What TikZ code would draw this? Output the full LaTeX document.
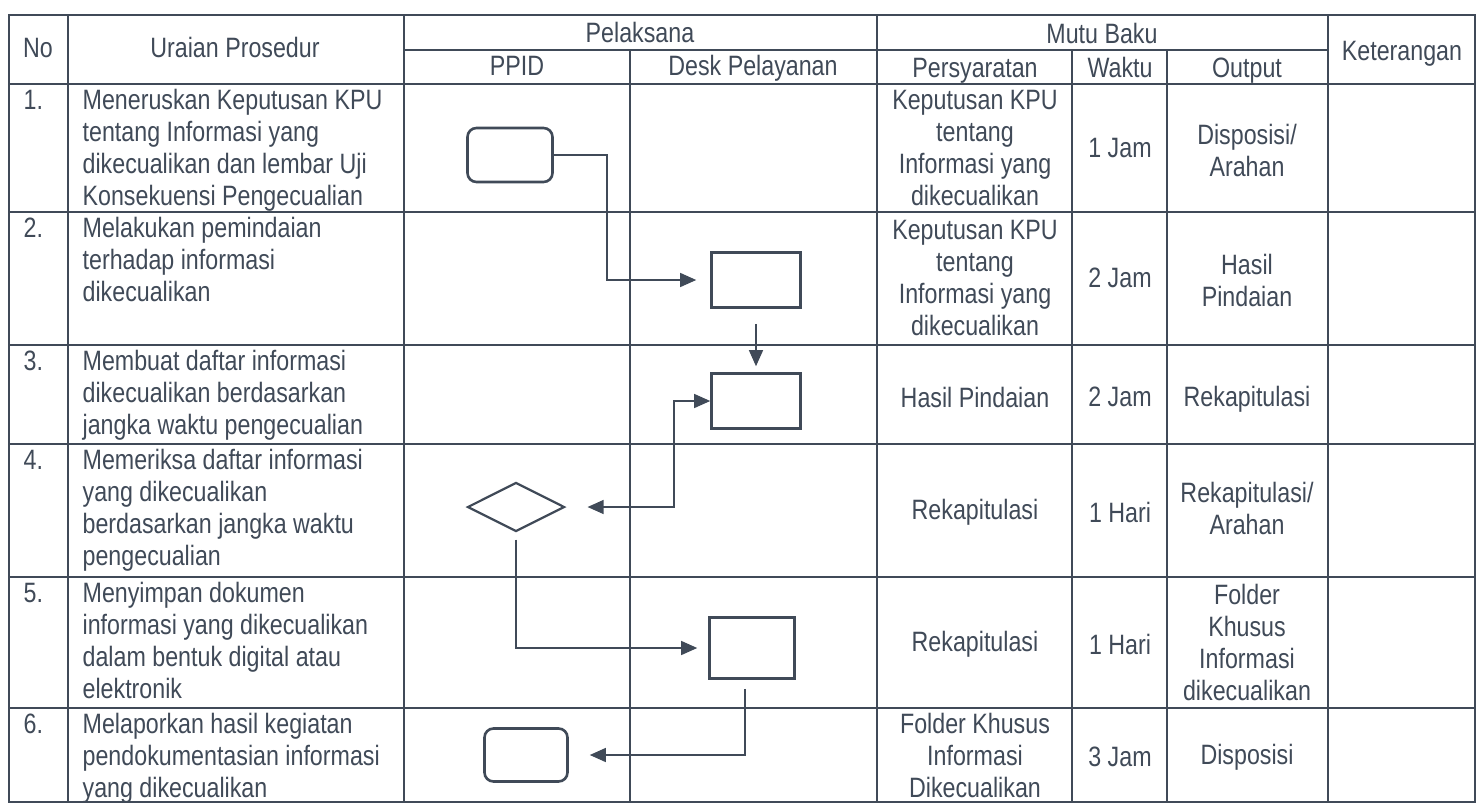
\documentclass[tikz,border=0pt]{standalone}
\usepackage{fontspec}
\setmainfont{Liberation Sans}[FakeStretch=0.83]
\usetikzlibrary{shapes.geometric,arrows.meta}
\definecolor{ink}{RGB}{64,74,88}

\begin{document}
\begin{tikzpicture}[x=1pt, y=-1pt, color=ink, line width=1.3pt,
    >={Triangle[length=16pt,width=14pt]},
    box node/.style={draw, line width=2.6pt, minimum width=89pt, minimum height=55pt},
    term node/.style={box node, rounded corners=9pt, minimum width=85pt, minimum height=54pt},
    check node/.style={draw, diamond, line width=2.2pt, minimum width=97pt, minimum height=49pt}]
        \tikzstyle{every node}=[font=\fontsize{28}{32}\selectfont, text=ink, inner sep=0pt]

          \fill[white] (0,0) rectangle (1484,806);
          \useasboundingbox (0,0) rectangle (1484,806);

          % table
          \draw (9,15) rectangle (1475,802);
          \foreach \y in {84,212,345,444,577,708} \draw (9,\y) -- (1475,\y);
          \draw (404,50) -- (1328,50);
          \foreach \x in {68,404,877,1328} \draw (\x,15) -- (\x,802);
          \foreach \x in {630,1072,1167} \draw (\x,50) -- (\x,802);

          % header
          \node[anchor=base] (hno) at (38,57) {No};
          \node[anchor=base] (hurai) at (235,57) {Uraian Prosedur};
          \node[anchor=base] (hpel) at (640,42) {Pelaksana};
          \node[anchor=base] (hppid) at (517,75) {PPID};
          \node[anchor=base] (hdesk) at (753,75) {Desk Pelayanan};
          \node[anchor=base] (hmutu) at (1102,43) {Mutu Baku};
          \node[anchor=base] (hsyarat) at (975,77) {Persyaratan};
          \node[anchor=base] (hwaktu) at (1120,77) {Waktu};
          \node[anchor=base] (hout) at (1247,77) {Output};
          \node[anchor=base] (hket) at (1402,60) {Keterangan};

          % numbers
          \node[anchor=base west] (no1) at (23,109) {1.};
          \node[anchor=base west] (no2) at (23,237) {2.};
          \node[anchor=base west] (no3) at (23,370) {3.};
          \node[anchor=base west] (no4) at (23,469) {4.};
          \node[anchor=base west] (no5) at (23,602) {5.};
          \node[anchor=base west] (no6) at (23,733) {6.};

          % uraian prosedur (base = last line)
          \node[anchor=base west, align=left] (ur1) at (82,205) {Meneruskan Keputusan KPU\\tentang Informasi yang\\dikecualikan dan lembar Uji\\Konsekuensi Pengecualian};
          \node[anchor=base west, align=left] (ur2) at (82,301) {Melakukan pemindaian\\terhadap informasi\\dikecualikan};
          \node[anchor=base west, align=left] (ur3) at (82,434) {Membuat daftar informasi\\dikecualikan berdasarkan\\jangka waktu pengecualian};
          \node[anchor=base west, align=left] (ur4) at (82,565) {Memeriksa daftar informasi\\yang dikecualikan\\berdasarkan jangka waktu\\pengecualian};
          \node[anchor=base west, align=left] (ur5) at (82,698) {Menyimpan dokumen\\informasi yang dikecualikan\\dalam bentuk digital atau\\elektronik};
          \node[anchor=base west, align=left] (ur6) at (82,797) {Melaporkan hasil kegiatan\\pendokumentasian informasi\\yang dikecualikan};

          % mutu baku
          \node[align=center] (sy1) at (975,148) {Keputusan KPU\\tentang\\Informasi yang\\dikecualikan};
          \node[align=center] (sy2) at (975,278) {Keputusan KPU\\tentang\\Informasi yang\\dikecualikan};
          \node[align=center] (sy3) at (975,397) {Hasil Pindaian};
          \node[align=center] (sy4) at (975,512) {Rekapitulasi};
          \node[align=center] (sy5) at (975,644) {Rekapitulasi};
          \node[align=center] (sy6) at (975,755) {Folder Khusus\\Informasi\\Dikecualikan};
          \node (wk1) at (1120,148) {1 Jam};
          \node (wk2) at (1120,278) {2 Jam};
          \node (wk3) at (1120,397) {2 Jam};
          \node (wk4) at (1120,512) {1 Hari};
          \node (wk5) at (1120,644) {1 Hari};
          \node (wk6) at (1120,757) {3 Jam};
          \node[align=center] (out1) at (1247,150) {Disposisi/\\Arahan};
          \node[align=center] (out2) at (1247,280) {Hasil\\Pindaian};
          \node[align=center] (out3) at (1247,399) {Rekapitulasi};
          \node[align=center] (out4) at (1247,508) {Rekapitulasi/\\Arahan};
          \node[align=center] (out5) at (1247,642) {Folder\\Khusus\\Informasi\\dikecualikan};
          \node[align=center] (out6) at (1247,757) {Disposisi};

          % flow
          \node[term node] (1) at (510,155) {};
          \node[box node] (2) at (756,280) {};
          \node[box node] (3) at (756,401) {};
          \node[check node] (4) at (516,507) {};
          \node[box node, minimum width=85pt, minimum height=61pt] (5) at (752,648) {};
          \node[term node, minimum width=83pt, minimum height=53pt] (6) at (526,755) {};
          \coordinate (k1) at (607,280);
          \coordinate (k3) at (674,507);

          \draw[->, shorten >=14pt] (1.east) -| (k1) -- (2.west);
          \draw[->, shorten <=15pt, shorten >=6pt] (2.south) -- (3.north);
          \draw[<->, shorten >=22pt] (3.west) -| (k3) -- (4.east);
          \draw[->, shorten <=7pt, shorten >=11pt] (4.south) |- (5.west);
          \draw[->, shorten <=9pt, shorten >=21pt] ([xshift=-7pt]5.south) |- (6.east);

        \end{tikzpicture}
\end{document}
